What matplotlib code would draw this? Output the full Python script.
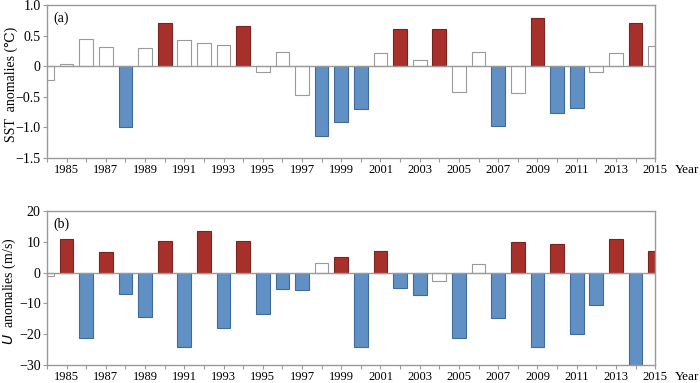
import matplotlib
matplotlib.use("Agg")
import matplotlib.pyplot as plt
from matplotlib.ticker import FixedLocator, MultipleLocator

plt.rcParams["font.family"] = ["Liberation Serif", "DejaVu Serif"]
plt.rcParams["axes.unicode_minus"] = True

years = list(range(1984, 2016))
sst = [-0.22, 0.04, 0.45, 0.31, -0.99, 0.30, 0.71, 0.42, 0.38, 0.35, 0.66, -0.09,
       0.23, -0.47, -1.14, -0.92, -0.70, 0.22, 0.60, 0.10, 0.61, -0.42, 0.23, -0.98,
       -0.44, 0.78, -0.76, -0.68, -0.09, 0.21, 0.70, 0.33]
wind = [-1.1, 10.9, -21.1, 6.8, -6.8, -14.5, 10.2, -24.2, 13.5, -18.1, 10.3, -13.3,
        -5.2, -5.5, 3.0, 5.0, -24.0, 7.1, -5.1, -7.4, -2.8, -21.2, 2.7, -14.6,
        10.1, -24.0, 9.4, -20.0, -10.4, 11.0, -30.5, 7.0]
sst_ticks = [1.0, 0.5, 0, -0.5, -1.0, -1.5]
sst_ticklabels = ["1.0", "0.5", "0", "\u22120.5", "\u22121.0", "\u22121.5"]
wind_ticks = [20, 10, 0, -10, -20, -30]
wind_ticklabels = ["20", "10", "0", "\u221210", "\u221220", "\u221230"]
year_labels = list(range(1985, 2016, 2))

RED = "#a8302b"
BLUE = "#6191c4"
GREY = "#9a9a9a"


def colours(vals, thr):
    face, edge = [], []
    for v in vals:
        if v > thr:
            face.append(RED); edge.append("#7a2420")
        elif v < -thr:
            face.append(BLUE); edge.append("#3f6a99")
        else:
            face.append("white"); edge.append(GREY)
    return face, edge


fig = plt.figure(figsize=(7, 3.83), dpi=100)
ax1 = fig.add_axes([0.067, 0.5875, 0.869, 0.3995])
ax2 = fig.add_axes([0.067, 0.047, 0.869, 0.402])

panels = [
    (ax1, sst, 0.5, (-1.5, 1.0), sst_ticks, sst_ticklabels, "(a)", "SST  anomalies (\u2103)"),
    (ax2, wind, 4, (-30, 20), wind_ticks, wind_ticklabels, "(b)", "$U$  anomalies (m/s)"),
]

for ax, vals, thr, ylim, yt, ytl, tag, ylab in panels:
    face, edge = colours(vals, thr)
    ax.bar(years, vals, width=0.7, color=face, edgecolor=edge, linewidth=0.8, zorder=2)
    ax.axhline(0, color=GREY, linewidth=1.0, zorder=3)
    ax.set_xlim(1984, 2015)
    ax.set_ylim(*ylim)
    ax.xaxis.set_major_locator(FixedLocator(year_labels))
    ax.xaxis.set_minor_locator(MultipleLocator(1))
    ax.set_xticklabels([str(y) for y in year_labels])
    ax.set_yticks(yt)
    ax.set_yticklabels(ytl)
    for s in ax.spines.values():
        s.set_color(GREY)
        s.set_linewidth(1.0)
    ax.tick_params(axis="both", which="both", direction="out", color=GREY,
                   length=3, width=0.8)
    ax.tick_params(axis="x", labelsize=9, pad=1.5)
    ax.tick_params(axis="y", labelsize=10, pad=1.5)
    ax.text(0.01, 0.955, tag, transform=ax.transAxes, fontsize=10, va="top", ha="left")
    ax.set_ylabel(ylab, fontsize=10)
    ax.yaxis.set_label_coords(-0.048, 0.48)
    ax.annotate("Year", xy=(1, 0), xycoords="axes fraction", xytext=(14.5, -4.5),
                textcoords="offset points", fontsize=9.5, va="top", ha="left",
                annotation_clip=False)

fig.savefig("out.png", dpi=100)
